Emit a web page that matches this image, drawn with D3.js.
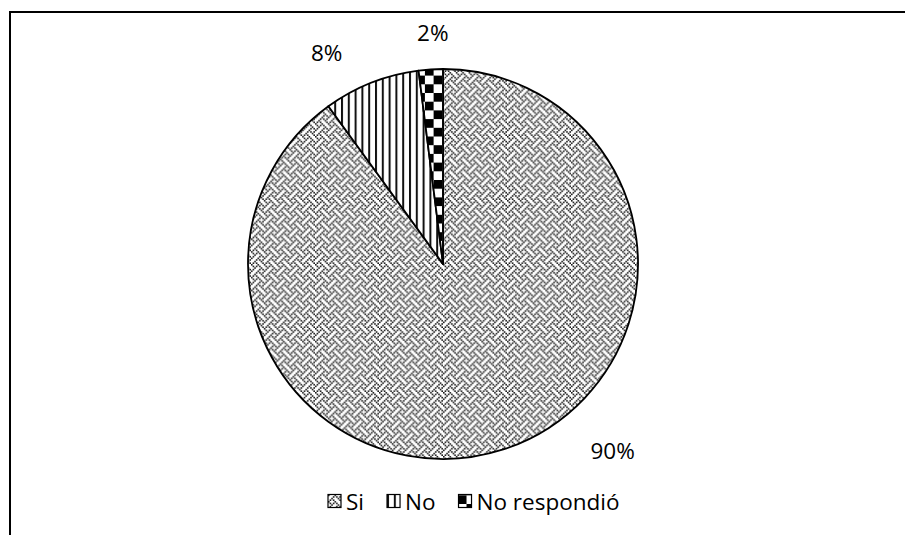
<!DOCTYPE html>
<html>
<head>
<meta charset="utf-8">
<script src="https://cdn.jsdelivr.net/npm/d3@7"></script>
<style>
  html, body { margin: 0; padding: 0; background: #fff; }
  svg { display: block; }
  text { font-family: "Open Sans", "DejaVu Sans", sans-serif; fill: #000; }
</style>
</head>
<body>
<svg id="chart" width="905" height="535"></svg>
<script>
// Survey answers and their shares (percent)
const categories = ["Si", "No", "No respondió"];
const values = [90, 8, 2];
const valueLabels = ["90%", "8%", "2%"];

const W = 905, H = 535;
const cx = 443, cy = 264, R = 195;

const svg = d3.select("#chart");
const defs = svg.append("defs");

// Weave hatch (8x8 bitmap), used for "Si"
const weave = [
  0x88, 0x54, 0x22, 0x45, 0x88, 0x15, 0x22, 0x51
];
const pWeave = defs.append("pattern")
  .attr("id", "pat-weave")
  .attr("patternUnits", "userSpaceOnUse")
  .attr("width", 8).attr("height", 8)
  .attr("patternTransform", "scale(1.6)");
pWeave.append("rect").attr("width", 8).attr("height", 8).attr("fill", "#fff");
weave.forEach((row, y) => {
  for (let x = 0; x < 8; x++) {
    if (row & (0x80 >> x)) {
      pWeave.append("rect").attr("x", x).attr("y", y)
        .attr("width", 1).attr("height", 1).attr("fill", "#1a1a1a");
    }
  }
});

// Vertical stripes, used for "No"
const pStripe = defs.append("pattern")
  .attr("id", "pat-stripe")
  .attr("patternUnits", "userSpaceOnUse")
  .attr("width", 6.8).attr("height", 10);
pStripe.append("rect").attr("width", 6.8).attr("height", 10).attr("fill", "#fff");
pStripe.append("rect").attr("x", 0).attr("width", 2).attr("height", 10).attr("fill", "#111");

// Large checkerboard, used for "No respondió"
const cs = 8.7;
const pCheck = defs.append("pattern")
  .attr("id", "pat-check")
  .attr("patternUnits", "userSpaceOnUse")
  .attr("x", cx).attr("y", cy)
  .attr("width", cs * 2).attr("height", cs * 2);
pCheck.append("rect").attr("width", cs * 2).attr("height", cs * 2).attr("fill", "#fff");
pCheck.append("rect").attr("x", 0).attr("y", 0).attr("width", cs).attr("height", cs).attr("fill", "#000");
pCheck.append("rect").attr("x", cs).attr("y", cs).attr("width", cs).attr("height", cs).attr("fill", "#000");

const fills = ["url(#pat-weave)", "url(#pat-stripe)", "url(#pat-check)"];
const color = d3.scaleOrdinal().domain(categories).range(fills);

// Chart frame (top and left edges)
svg.append("path")
  .attr("d", `M10,${H} L10,12 L${W},12`)
  .attr("fill", "none").attr("stroke", "#000").attr("stroke-width", 2);

// Pie, clockwise from 12 o'clock in data order
const data = categories.map((c, i) => ({ cat: c, value: values[i], label: valueLabels[i] }));
const pie = d3.pie().sort(null).value(d => d.value).startAngle(0).endAngle(2 * Math.PI);
const arcs = pie(data);
const arc = d3.arc().innerRadius(0).outerRadius(R);

const g = svg.append("g").attr("transform", `translate(${cx},${cy})`);
g.selectAll("path.slice")
  .data(arcs)
  .join("path")
  .attr("class", "slice")
  .attr("d", arc)
  .attr("fill", d => color(d.data.cat))
  .attr("stroke", "#000")
  .attr("stroke-width", 1.8)
  .attr("stroke-linejoin", "round");

// Value labels outside the pie; each sits at a fraction of its slice's sweep
// (spread apart so the two narrow slices' labels do not crowd each other)
const labelSweep = [0.425, 0.25, 0.65];
const fontSize = 22.5;
const pad = 21;
g.selectAll("text.value")
  .data(arcs)
  .join("text")
  .attr("class", "value")
  .attr("font-size", fontSize)
  .attr("text-anchor", "middle")
  .attr("dominant-baseline", "central")
  .text(d => d.data.label)
  .each(function (d, i) {
    const a = d.startAngle + (d.endAngle - d.startAngle) * labelSweep[i];
    const w = this.getComputedTextLength();
    const h = fontSize * 0.75;
    const ext = Math.abs(Math.sin(a)) * w / 2 + Math.abs(Math.cos(a)) * h / 2;
    const rr = R + pad + ext * 1.7;
    d3.select(this)
      .attr("x", Math.sin(a) * rr)
      .attr("y", -Math.cos(a) * rr);
  });

// Legend
const legend = svg.append("g").attr("transform", "translate(0,501)");
const box = 13;
let lx = 328;
data.forEach((d, i) => {
  const item = legend.append("g").attr("transform", `translate(${lx},0)`);
  item.append("rect")
    .attr("x", 0).attr("y", -box / 2)
    .attr("width", box).attr("height", box)
    .attr("fill", color(d.cat))
    .attr("stroke", "#000").attr("stroke-width", 1.2);
  const t = item.append("text")
    .attr("x", box + 5).attr("y", 0)
    .attr("dominant-baseline", "central")
    .attr("font-size", fontSize)
    .text(d.cat);
  lx += box + 5 + t.node().getComputedTextLength() + 23;
});
</script>
</body>
</html>
